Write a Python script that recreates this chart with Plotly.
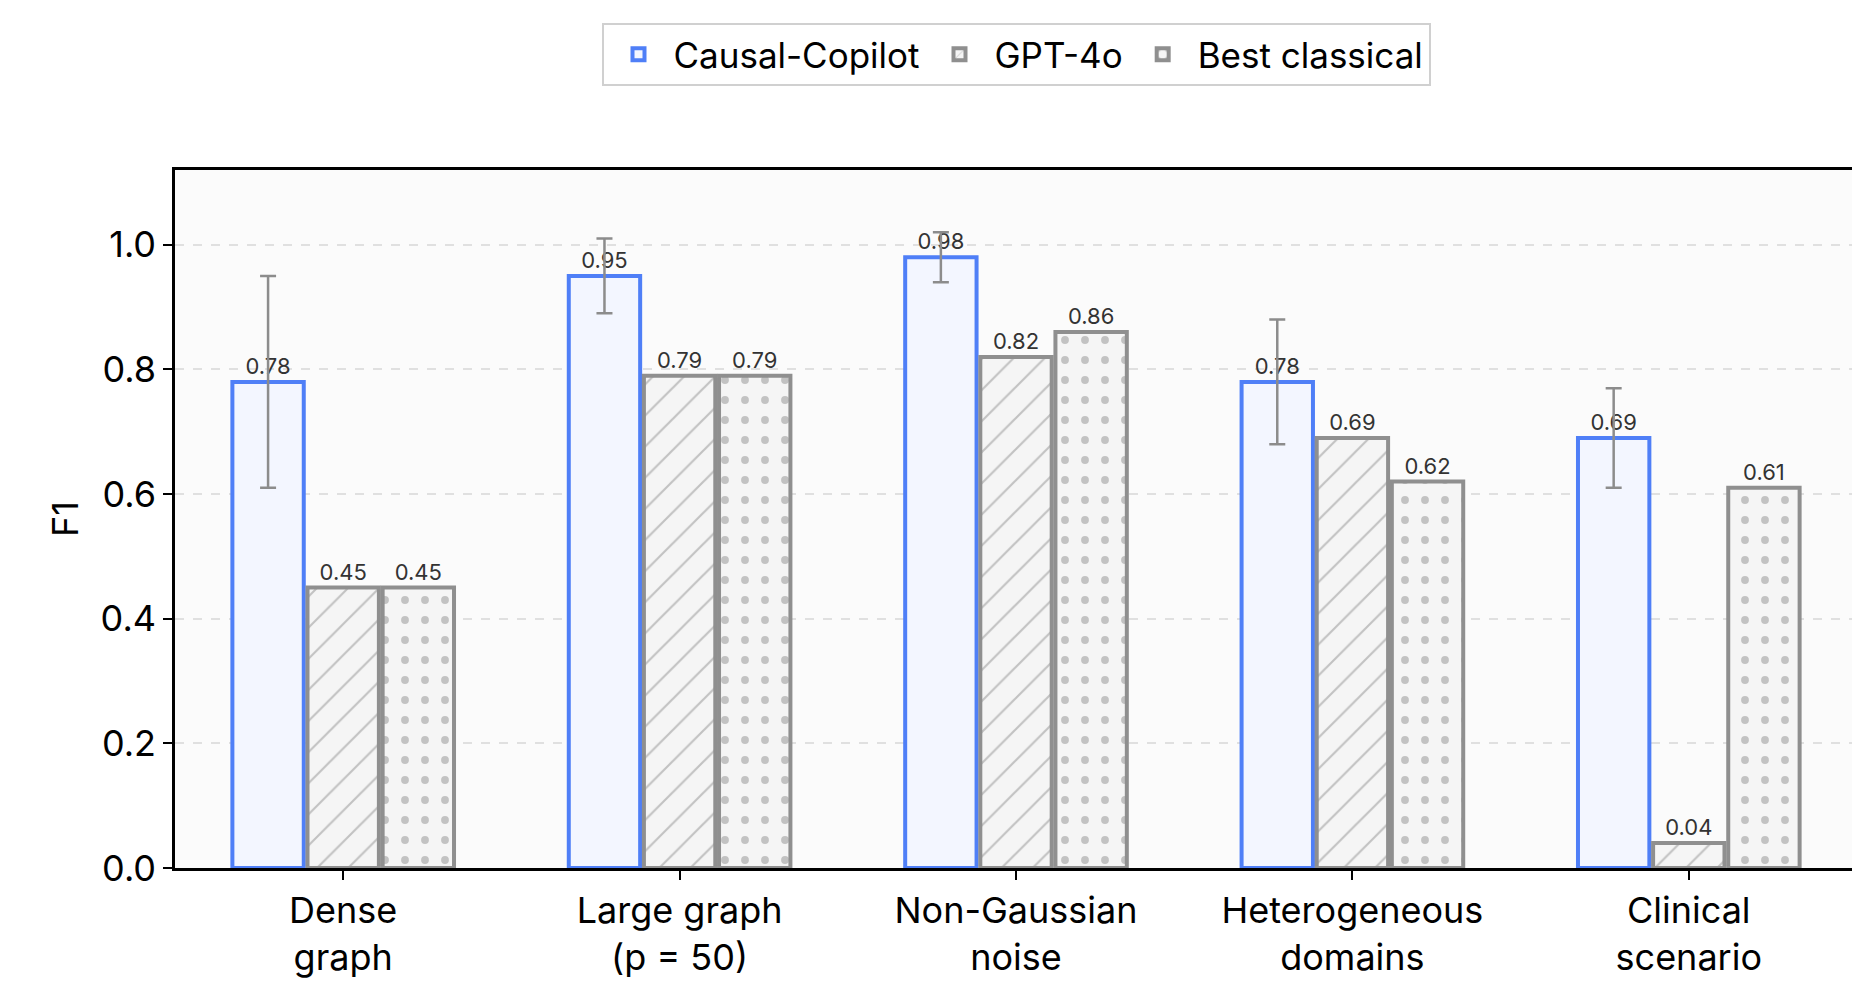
import plotly.graph_objects as go

categories = ['Dense<br>graph', 'Large graph<br>(p = 50)', 'Non-Gaussian<br>noise',
              'Heterogeneous<br>domains', 'Clinical<br>scenario']
copilot = [0.78, 0.95, 0.98, 0.78, 0.69]
copilot_low = [0.61, 0.89, 0.94, 0.68, 0.61]
copilot_high = [0.95, 1.01, 1.02, 0.88, 0.77]
gpt4o = [0.45, 0.79, 0.82, 0.69, 0.04]
classical = [0.45, 0.79, 0.86, 0.62, 0.61]

err_plus = [h - v for h, v in zip(copilot_high, copilot)]
err_minus = [v - l for l, v in zip(copilot_low, copilot)]

font = 'Inter'
lbl = dict(size=22, color='#333')
fig = go.Figure()
fig.add_trace(go.Bar(
    x=categories, y=copilot, name='Causal-Copilot',
    marker=dict(color='#f3f6ff', line=dict(color='#4f7ff7', width=4)),
    error_y=dict(type='data', symmetric=False, array=err_plus, arrayminus=err_minus,
                 color='#8c8c8c', thickness=2.5, width=8),
    text=[f'{v:.2f}' for v in copilot], textposition='outside',
    textfont=lbl, cliponaxis=False))
fig.add_trace(go.Bar(
    x=categories, y=gpt4o, name='GPT-4o',
    marker=dict(color='#f5f5f5', line=dict(color='#8f8f8f', width=4),
                pattern=dict(shape='/', fgcolor='#8f8f8f', bgcolor='#f5f5f5', size=22, solidity=0.1)),
    text=[f'{v:.2f}' for v in gpt4o], textposition='outside',
    textfont=lbl, cliponaxis=False))
fig.add_trace(go.Bar(
    x=categories, y=classical, name='Best classical',
    marker=dict(color='#f5f5f5', line=dict(color='#8f8f8f', width=4),
                pattern=dict(shape='.', fgcolor='#8f8f8f', bgcolor='#f5f5f5', size=20, solidity=0.12)),
    text=[f'{v:.2f}' for v in classical], textposition='outside',
    textfont=lbl, cliponaxis=False))

fig.update_layout(
    width=1860, height=1003, barmode='group', bargap=0.33, bargroupgap=0.05,
    paper_bgcolor='white', plot_bgcolor='#fbfbfb',
    font=dict(family=font, color='black', size=36),
    margin=dict(l=167, r=8, t=162, b=143),
    legend=dict(orientation='h', x=0.5, xanchor='center', y=0.985, yanchor='top',
                yref='container', bordercolor='#d0d0d0', borderwidth=2,
                font=dict(size=35), bgcolor='white', itemwidth=60),
    uniformtext=dict(minsize=22, mode='show'),
)
fig.update_xaxes(showline=True, linecolor='black', linewidth=2.5, mirror=True,
                 ticks='outside', ticklen=9, tickwidth=2, tickcolor='black',
                 tickfont=dict(size=36))
fig.update_yaxes(range=[0, 1.12], tickvals=[0, 0.2, 0.4, 0.6, 0.8, 1.0],
                 tickformat='.1f', showline=True, linecolor='black', linewidth=2.5,
                 mirror=True, ticks='outside', ticklen=9, tickwidth=2, tickcolor='black',
                 showgrid=True, gridcolor='#e0e0e0', griddash='dash', gridwidth=1.5,
                 zeroline=False, title=dict(text='F1', font=dict(size=36), standoff=12),
                 tickfont=dict(size=36))
fig.write_html('out.html')
